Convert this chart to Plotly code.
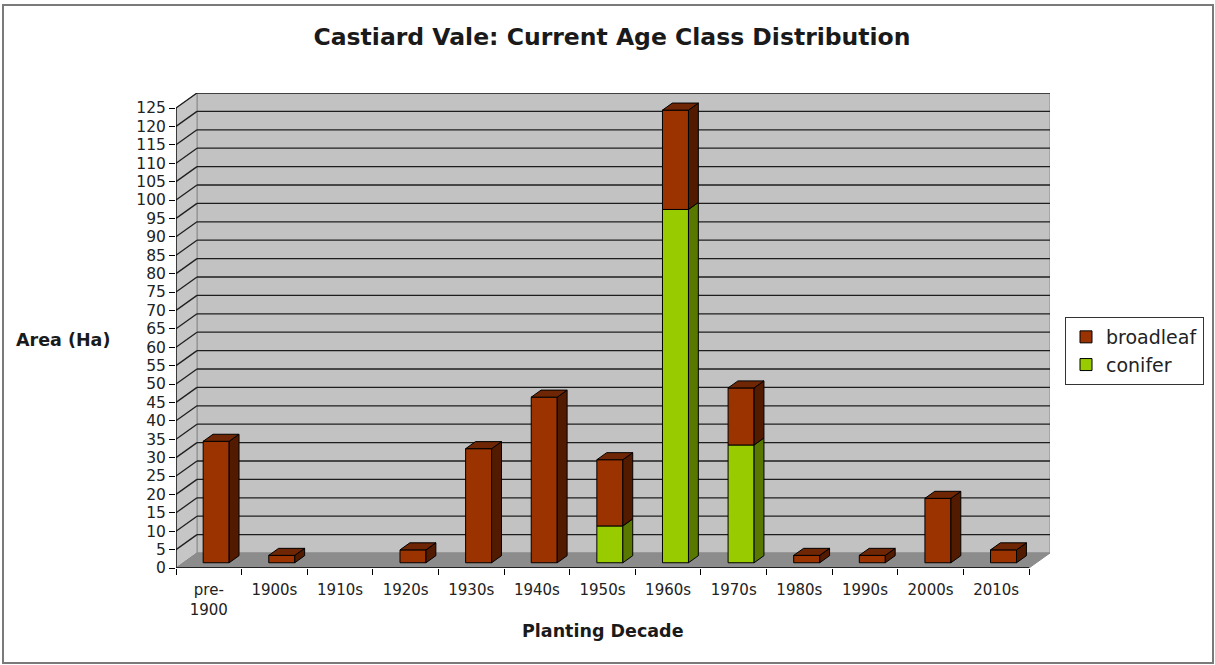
import plotly.graph_objects as go

# ---------------- data ----------------
categories = ["pre-<br>1900", "1900s", "1910s", "1920s", "1930s", "1940s", "1950s",
              "1960s", "1970s", "1980s", "1990s", "2000s", "2010s"]
broadleaf = [33, 2, 0, 3.5, 31, 45, 18, 27, 15.5, 2, 2, 17.5, 3.5]
conifer = [0, 0, 0, 0, 0, 0, 10, 96, 32, 0, 0, 0, 0]
y_ticks = list(range(0, 130, 5))
y_max = 125

# ---------------- geometry / style ----------------
W, H = 1215, 665
ML, MR, MT, MB = 176, 165, 93, 97
plot_w = W - ML - MR
plot_h = H - MT - MB
n = len(categories)
wall_dx_px, wall_dy_px = 21, 15
ux = n / (plot_w - wall_dx_px)          # x units per pixel
uy = y_max / (plot_h - wall_dy_px)      # y units per pixel
wdx, wdy = wall_dx_px * ux, wall_dy_px * uy
bx0, by0 = 0.35 * wdx, 0.35 * wdy       # bar front plane offset
bdx, bdy = 0.47 * wdx, 0.47 * wdy       # bar depth
bw = 26 * ux                            # bar width

BROAD = dict(front="#9a3300", side="#521b00", top="#6e2604")
CONIF = dict(front="#99cc00", side="#587800", top="#7aa300")
WALL = "#c2c2c2"
FLOOR = "#8c8c8c"
EDGE = "#8a8a8a"
GRID = "#1e1e1e"

fig = go.Figure()

# front faces via bar traces
xs = [i + bx0 for i in range(n)]
fig.add_trace(go.Bar(
    x=xs, y=[c if c > 0 else None for c in conifer], base=by0, width=bw,
    name="conifer", marker=dict(color=CONIF["front"], line=dict(color="black", width=1)),
    legendrank=2, legendgroup="c", hoverinfo="skip"))
fig.add_trace(go.Bar(
    x=xs, y=[b if b > 0 else None for b in broadleaf],
    base=[by0 + c for c in conifer], width=bw,
    name="broadleaf", marker=dict(color=BROAD["front"], line=dict(color="black", width=1)),
    legendrank=1, legendgroup="b", hoverinfo="skip"))

# 3D side and top faces
polys = {k: ([], []) for k in ("bs", "bt", "cs", "ct")}
def add_poly(key, pts):
    px, py = polys[key]
    for (a, b) in pts:
        px.append(a); py.append(b)
    px.append(pts[0][0]); py.append(pts[0][1])
    px.append(None); py.append(None)

for i in range(n):
    xl = i + bx0 - bw / 2
    xr = xl + bw
    segs = []
    if conifer[i] > 0:
        segs.append(("c", by0, by0 + conifer[i]))
    if broadleaf[i] > 0:
        segs.append(("b", by0 + conifer[i], by0 + conifer[i] + broadleaf[i]))
    for k, (sp, bot, top) in enumerate(segs):
        add_poly(sp + "s", [(xr, bot), (xr + bdx, bot + bdy), (xr + bdx, top + bdy), (xr, top)])
        if k == len(segs) - 1:
            add_poly(sp + "t", [(xl, top), (xl + bdx, top + bdy), (xr + bdx, top + bdy), (xr, top)])

for key, col in (("cs", CONIF["side"]), ("ct", CONIF["top"]),
                 ("bs", BROAD["side"]), ("bt", BROAD["top"])):
    px, py = polys[key]
    if px:
        fig.add_trace(go.Scatter(x=px, y=py, mode="lines", fill="toself", fillcolor=col,
                                 line=dict(color="black", width=1), showlegend=False,
                                 hoverinfo="skip"))

# ---------------- walls, floor, grid ----------------
x_lo, x_hi = -0.5, n - 0.5
shapes = []
def path(pts):
    return "M " + " L ".join(f"{a},{b}" for a, b in pts) + " Z"

shapes.append(dict(type="rect", xref="x", yref="y", x0=x_lo + wdx, x1=x_hi + wdx,
                   y0=wdy, y1=y_max + wdy, fillcolor=WALL, line=dict(color=EDGE, width=1),
                   layer="below"))
shapes.append(dict(type="path", xref="x", yref="y",
                   path=path([(x_lo, 0), (x_lo + wdx, wdy), (x_lo + wdx, y_max + wdy), (x_lo, y_max)]),
                   fillcolor="#c6c6c6", line=dict(color=EDGE, width=1), layer="below"))
shapes.append(dict(type="path", xref="x", yref="y",
                   path=path([(x_lo, 0), (x_hi, 0), (x_hi + wdx, wdy), (x_lo + wdx, wdy)]),
                   fillcolor=FLOOR, line=dict(color=EDGE, width=1), layer="below"))
for v in y_ticks[1:]:
    shapes.append(dict(type="line", xref="x", yref="y", x0=x_lo + wdx, x1=x_hi + wdx,
                       y0=v + wdy, y1=v + wdy, line=dict(color=GRID, width=1.3), layer="below"))
    shapes.append(dict(type="line", xref="x", yref="y", x0=x_lo, x1=x_lo + wdx,
                       y0=v, y1=v + wdy, line=dict(color=GRID, width=1.3), layer="below"))
# front axis lines
shapes.append(dict(type="line", xref="x", yref="y", x0=x_lo, x1=x_lo, y0=0, y1=y_max,
                   line=dict(color="black", width=1.3)))
shapes.append(dict(type="line", xref="x", yref="y", x0=x_lo, x1=x_hi, y0=0, y1=0,
                   line=dict(color="black", width=1.3)))
# outer chart border
def pxr(px): return (px - ML) / plot_w
def pyr(py): return (H - MB - py) / plot_h
shapes.append(dict(type="rect", xref="paper", yref="paper", x0=pxr(3), x1=pxr(1213),
                   y0=pyr(663), y1=pyr(5), line=dict(color="#7a7a7a", width=2),
                   fillcolor="rgba(0,0,0,0)"))

FONT = "DejaVu Sans"
fig.update_layout(
    width=W, height=H,
    margin=dict(l=ML, r=MR, t=MT, b=MB, autoexpand=False),
    paper_bgcolor="white", plot_bgcolor="white",
    barmode="overlay",
    shapes=shapes,
    showlegend=True,
    title=dict(text="<b>Castiard Vale: Current Age Class Distribution</b>",
               x=612 / W, xanchor="center", xref="container",
               y=1 - 37 / H, yanchor="middle", yref="container",
               font=dict(family=FONT, size=23.5, color="#1a1a1a")),
    legend=dict(x=pxr(1065), y=pyr(317), xanchor="left", yanchor="top",
                bgcolor="white", bordercolor="#333333", borderwidth=1,
                font=dict(family=FONT, size=19, color="#222222"),
                tracegroupgap=0, itemwidth=30),
    xaxis=dict(range=[x_lo, x_hi + wdx], tickmode="array",
               tickvals=list(range(n)), ticktext=categories,
               ticks="outside", ticklen=8, tickcolor="rgba(0,0,0,0)",
               minor=dict(ticks="outside", ticklen=6, tickcolor="black", tickwidth=1,
                          tick0=-0.5, dtick=1, showgrid=False),
               showgrid=False, zeroline=False, showline=False, fixedrange=True,
               tickfont=dict(family=FONT, size=15, color="#222222")),
    yaxis=dict(range=[0, y_max + wdy], tickmode="array", tickvals=y_ticks,
               ticks="outside", ticklen=6, tickcolor="black", tickwidth=1,
               showgrid=False, zeroline=False, showline=False, fixedrange=True,
               tickfont=dict(family=FONT, size=15.5, color="#222222")),
    annotations=[
        dict(text="<b>Area (Ha)</b>", xref="paper", yref="paper", x=pxr(14), y=pyr(340),
             xanchor="left", yanchor="middle", showarrow=False,
             font=dict(family=FONT, size=17.5, color="#1a1a1a")),
        dict(text="<b>Planting Decade</b>", xref="paper", yref="paper", x=pxr(603), y=pyr(631),
             xanchor="center", yanchor="middle", showarrow=False,
             font=dict(family=FONT, size=17.5, color="#1a1a1a")),
    ],
)

fig.write_html("out.html", config={"displayModeBar": False},
               post_script="document.body.style.margin='0px';document.body.style.overflow='hidden';")
